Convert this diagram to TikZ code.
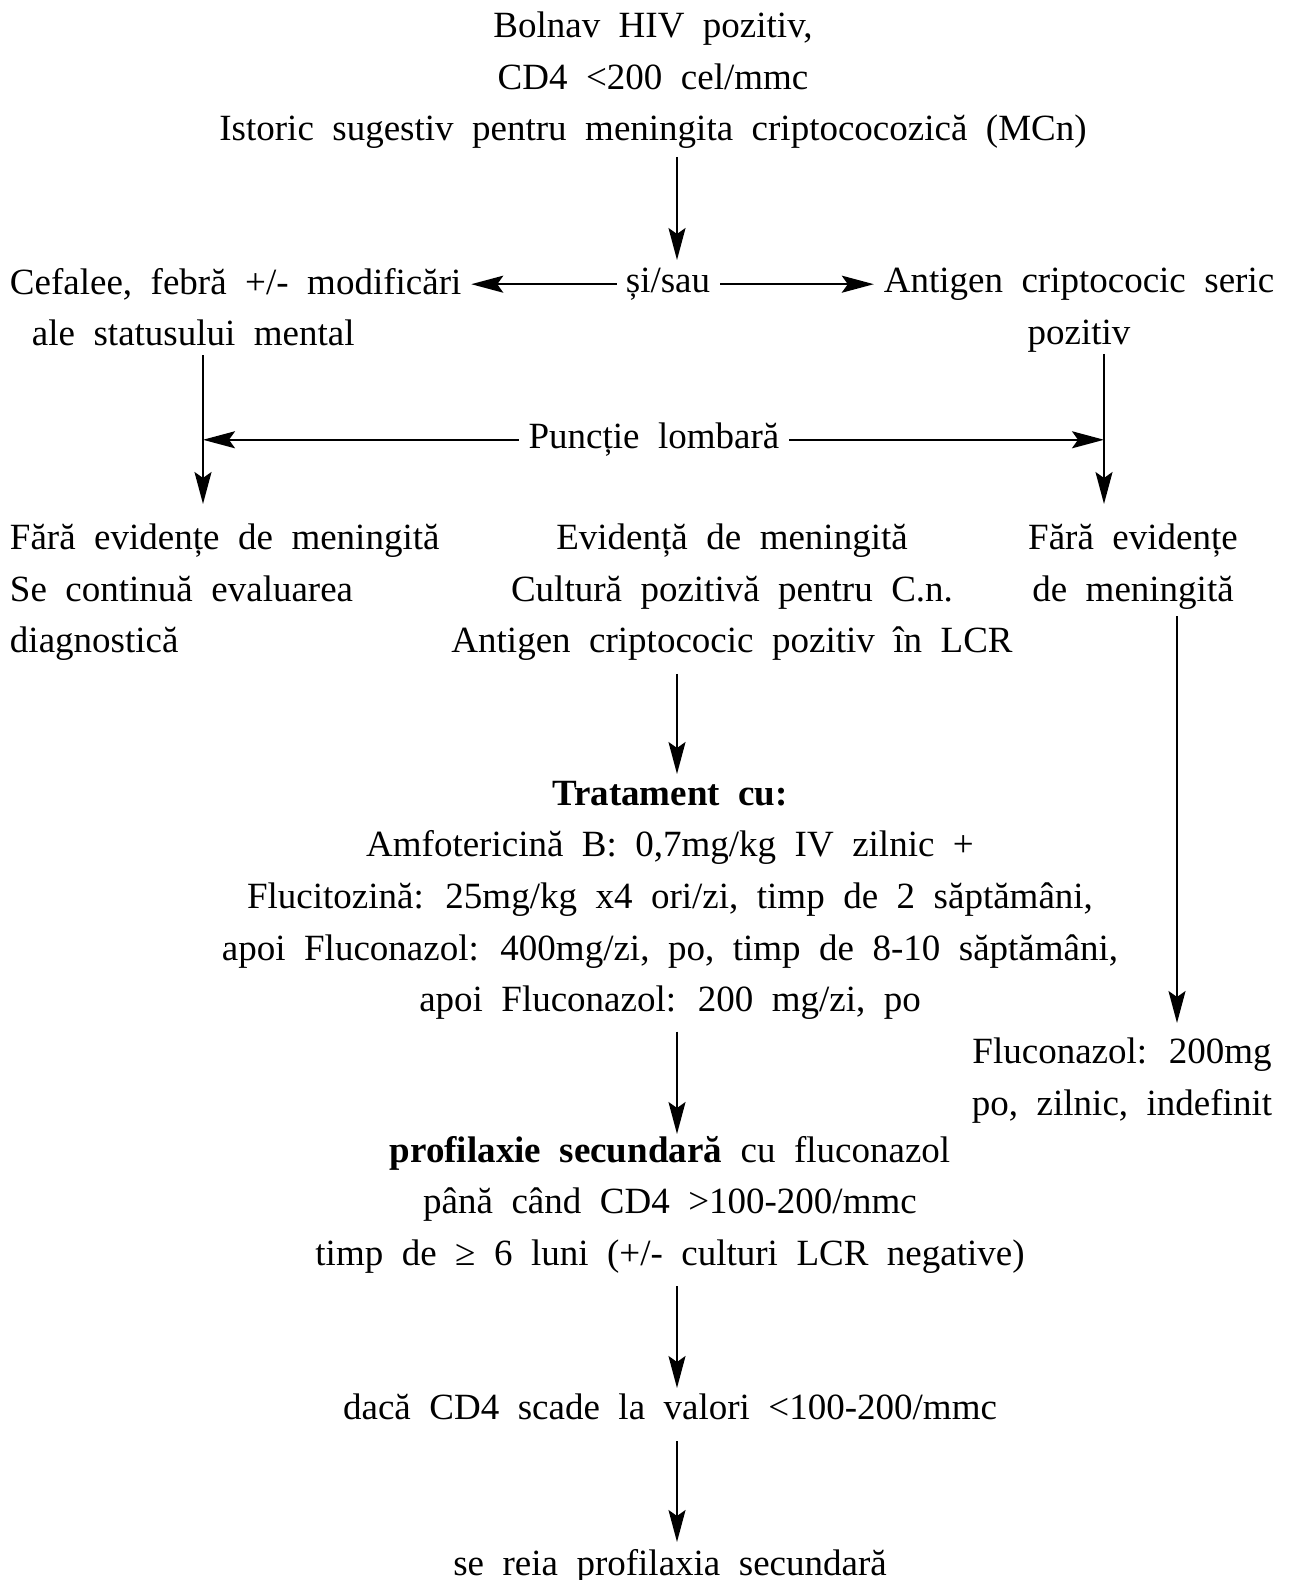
\documentclass[tikz,border=0pt]{standalone}
\usepackage{fontspec}
\setmainfont{Liberation Serif}
\usetikzlibrary{arrows.meta}
\newcommand\flowfont{\fontsize{18.5}{25.8}\selectfont\spaceskip=0.5em\relax}
\begin{document}
\begin{tikzpicture}[x=0.5pt,y=-0.5pt,
  txt/.style={inner sep=0pt, outer sep=0pt, font=\flowfont, align=center},
  arr/.style={line width=1pt, -{Stealth[length=16pt,width=8.5pt,inset=3pt]}},
  lin/.style={line width=1pt}]
\useasboundingbox (0,0) rectangle (1292,1580);

% column positions of the vertical connectors
\coordinate (mx) at (677,0);
\coordinate (xL) at (203,0);
\coordinate (xR) at (1104,0);
\coordinate (xF) at (1177,0);

% texts
\node[txt, anchor=north] (top) at (653,12)
  {Bolnav HIV pozitiv,\\CD4 <200 cel/mmc\\Istoric sugestiv pentru meningita criptococozică (MCn)};
\node[txt, anchor=north west, align=left] (cef) at (10,268)
  {Cefalee, febră +/- modificări\\\hspace*{11pt}ale statusului mental};
\node[txt, anchor=north] (si) at (668,268) {și/sau};
\node[txt, anchor=north] (ant) at (1079,268) {Antigen criptococic seric\\pozitiv};
\node[txt, anchor=north] (pl) at (654,423) {Puncție lombară};
\node[txt, anchor=north west, align=left] (fl) at (10,524)
  {Fără evidențe de meningită\\Se continuă evaluarea\\diagnostică};
\node[txt, anchor=north] (ev) at (732,524)
  {Evidență de meningită\\Cultură pozitivă pentru C.n.\\Antigen criptococic pozitiv în LCR};
\node[txt, anchor=north] (fr) at (1133,524) {Fără evidențe\\de meningită};
\node[txt, anchor=north] (trat) at (670,781)
  {\textbf{Tratament cu:}\\Amfotericină B: 0,7mg/kg IV zilnic +\\Flucitozină: 25mg/kg x4 ori/zi, timp de 2 săptămâni,\\apoi Fluconazol: 400mg/zi, po, timp de 8-10 săptămâni,\\apoi Fluconazol: 200 mg/zi, po};
\node[txt, anchor=north] (flr) at (1122,1038) {Fluconazol: 200mg\\po, zilnic, indefinit};
\node[txt, anchor=north] (prof) at (670,1136)
  {\textbf{profilaxie secundară} cu fluconazol\\până când CD4 >100-200/mmc\\timp de ≥ 6 luni (+/- culturi LCR negative)};
\node[txt, anchor=north] (daca) at (670,1394) {dacă CD4 scade la valori <100-200/mmc};
\node[txt, anchor=north] (reia) at (670,1549) {se reia profilaxia secundară};

% connectors
\draw[arr, shorten <=4pt, shorten >=4pt] (top.south -| mx) -- (si.north -| mx);
\draw[arr, shorten <=4.5pt, shorten >=5pt] (si.west) -- (si.west -| cef.east);
\draw[arr, shorten <=5pt, shorten >=5pt] (si.east) -- (si.east -| ant.west);
\draw[arr, shorten <=4.5pt, shorten >=10pt] (cef.south -| xL) -- (fl.north -| xL);
\draw[arr, shorten <=1pt, shorten >=10pt] (ant.south -| xR) -- (fl.north -| xR);
\draw[arr, shorten <=5pt] (pl.west) -- (pl.west -| xL);
\draw[arr, shorten <=5pt] (pl.east) -- (pl.east -| xR);
\draw[arr, shorten <=3.5pt, shorten >=7.5pt] (fr.south -| xF) -- (flr.north -| xF);
\draw[arr, shorten <=6.5pt, shorten >=3.5pt] (ev.south -| mx) -- (trat.north -| mx);
\draw[arr, shorten <=6pt, shorten >=1pt] (trat.south -| mx) -- (prof.north -| mx);
\draw[arr, shorten <=6.5pt, shorten >=3pt] (prof.south -| mx) -- (daca.north -| mx);
\draw[arr, shorten <=10.5pt, shorten >=3.5pt] (daca.south -| mx) -- (reia.north -| mx);
\end{tikzpicture}
\end{document}
